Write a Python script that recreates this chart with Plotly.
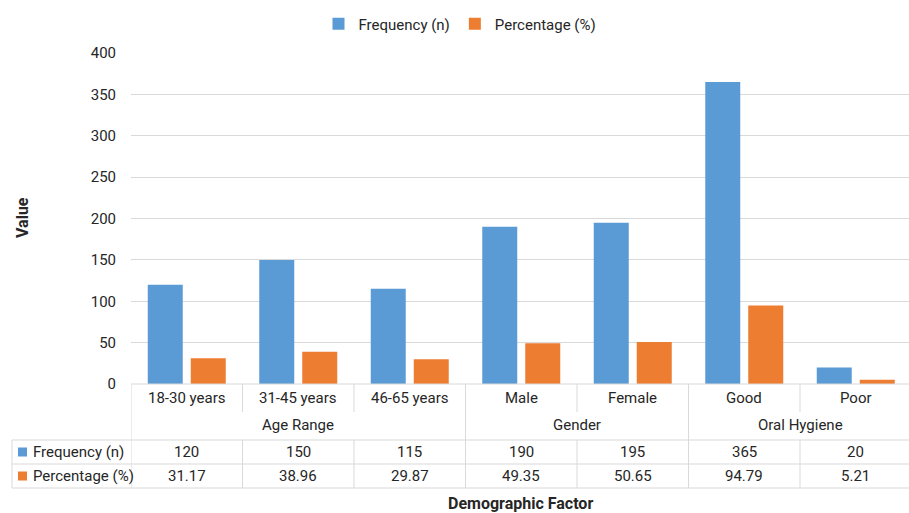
import plotly.graph_objects as go

# Data
categories = ["18-30 years", "31-45 years", "46-65 years", "Male", "Female", "Good", "Poor"]
groups = ["Age Range", "Gender", "Oral Hygiene"]
group_spans = [(0, 2), (3, 4), (5, 6)]
frequency = [120, 150, 115, 190, 195, 365, 20]
percentage = [31.17, 38.96, 29.87, 49.35, 50.65, 94.79, 5.21]
series_names = ["Frequency (n)", "Percentage (%)"]
y_ticks = [0, 50, 100, 150, 200, 250, 300, 350, 400]

BLUE = "#5b9bd5"
ORANGE = "#ed7d31"
GRID = "#d9d9d9"
TEXT = "#262626"
FONT = "Roboto, sans-serif"
FS = 15

W, H = 909, 513
ML, MR, MT, MB = 131, 0, 53, 129
plot_h = H - MT - MB
plot_w = W - ML - MR
cat_px = 111.5  # width of one category slot in pixels
bar_w = 35 / cat_px
bar_gap = 8 / cat_px


def py(p):
    """Pixel row -> paper y."""
    return (H - MB - p) / plot_h


def px(p):
    """Pixel column -> paper x."""
    return (p - ML) / plot_w


x = list(range(len(categories)))

fig = go.Figure()
fig.add_trace(go.Bar(x=x, y=frequency, name=series_names[0], width=bar_w, offset=-bar_w - bar_gap / 2,
                     marker=dict(color=BLUE, line=dict(width=0))))
fig.add_trace(go.Bar(x=x, y=percentage, name=series_names[1], width=bar_w, offset=bar_gap / 2,
                     marker=dict(color=ORANGE, line=dict(width=0))))

shapes = []
ann = []
line = dict(color=GRID, width=1)

# Table rows (pixel rows)
row_cat, row_grp, row_f, row_p = 398, 425, 452, 476
y_axis, y_mid, y_t1, y_t2, y_t3 = 384, 412, 440, 464, 488

# Horizontal rules
for yy in (y_t1, y_t2, y_t3):
    shapes.append(dict(type="line", xref="paper", yref="paper", x0=px(12), x1=1, y0=py(yy), y1=py(yy), line=line))
shapes.append(dict(type="line", xref="paper", yref="paper", x0=0, x1=1, y0=py(y_axis), y1=py(y_axis), line=line))
# Vertical rules
shapes.append(dict(type="line", xref="paper", yref="paper", x0=px(12), x1=px(12), y0=py(y_t1), y1=py(y_t3), line=line))
shapes.append(dict(type="line", xref="x", yref="paper", x0=-0.5, x1=-0.5, y0=py(y_axis), y1=py(y_t3), line=line))
group_bounds = [s[1] + 0.5 for s in group_spans[:-1]]
for i in range(len(categories) - 1):
    b = i + 0.5
    if b in group_bounds:
        shapes.append(dict(type="line", xref="x", yref="paper", x0=b, x1=b, y0=py(y_axis), y1=py(y_t3), line=line))
    else:
        shapes.append(dict(type="line", xref="x", yref="paper", x0=b, x1=b, y0=py(y_axis), y1=py(y_mid), line=line))
        shapes.append(dict(type="line", xref="x", yref="paper", x0=b, x1=b, y0=py(y_t1), y1=py(y_t3), line=line))

tfont = dict(family=FONT, size=FS, color=TEXT)
common = dict(xref="x", yref="paper", showarrow=False, yanchor="middle", xanchor="center", font=tfont)
for i, c in enumerate(categories):
    ann.append(dict(x=i, y=py(row_cat), text=c, **common))
    ann.append(dict(x=i, y=py(row_f), text=f"{frequency[i]}", **common))
    ann.append(dict(x=i, y=py(row_p), text=f"{percentage[i]:.2f}", **common))
for g, (a, b) in zip(groups, group_spans):
    ann.append(dict(x=(a + b) / 2, y=py(row_grp), text=g, **common))

# Row headers with legend keys
for name, col, yy in ((series_names[0], BLUE, row_f), (series_names[1], ORANGE, row_p)):
    shapes.append(dict(type="rect", xref="paper", yref="paper", x0=px(18), x1=px(27), y0=py(yy + 4.5), y1=py(yy - 4.5),
                       fillcolor=col, line=dict(width=0)))
    ann.append(dict(x=px(31), y=py(yy), xref="paper", yref="paper", text=name, showarrow=False,
                    xanchor="left", yanchor="middle", font=tfont))

# Axis titles
ann.append(dict(x=px(22), y=py(218), xref="paper", yref="paper", text="<b>Value</b>", showarrow=False,
                textangle=-90, xanchor="center", yanchor="middle", font=dict(family=FONT, size=FS + 1, color=TEXT)))
ann.append(dict(x=px(520), y=py(503), xref="paper", yref="paper", text="<b>Demographic Factor</b>", showarrow=False,
                xanchor="center", yanchor="middle", font=dict(family=FONT, size=FS + 1, color=TEXT)))

fig.update_layout(
    width=W, height=H,
    margin=dict(l=ML, r=MR, t=MT, b=MB),
    paper_bgcolor="white", plot_bgcolor="white",
    barmode="group",
    font=dict(family=FONT, size=FS, color=TEXT),
    showlegend=True,
    legend=dict(orientation="h", x=px(460), xanchor="center", y=py(24), yanchor="middle",
                font=dict(family=FONT, size=FS, color=TEXT), itemwidth=30, traceorder="normal"),
    xaxis=dict(range=[-0.5, -0.5 + plot_w / cat_px], showticklabels=False, showgrid=False,
               zeroline=False, showline=False, ticks=""),
    yaxis=dict(range=[0, 400], tickvals=y_ticks, showgrid=True, gridcolor=GRID, gridwidth=1,
               zeroline=False, showline=False, ticks="", ticklabelstandoff=14,
               tickfont=dict(family=FONT, size=FS, color=TEXT)),
    shapes=shapes,
    annotations=ann,
)

fig.write_html("out.html")
